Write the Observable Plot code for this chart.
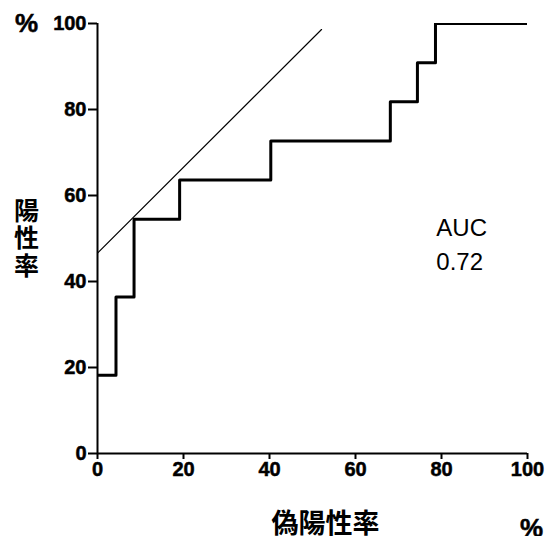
<!DOCTYPE html>
<html>
<head>
<meta charset="utf-8">
<script src="https://cdn.jsdelivr.net/npm/d3@7"></script>
<script src="https://cdn.jsdelivr.net/npm/@observablehq/plot@0.6"></script>
<style>
  body { margin: 0; background: #fff; }
  #chart svg { display: block; }
  /* heavier weight for the axis numbers and unit signs */
  #chart g[aria-label$="tick label"] text,
  #chart text.heavy { stroke: #000; stroke-width: 0.5px; }
</style>
</head>
<body>
<div id="chart"></div>
<script>
// ROC curve: false positive rate (x) vs true positive rate (y), in percent
const fpr = [0, 4.3, 8.5, 19.1, 40.3, 68.1, 74.4, 78.6, 100];
const tpr = [18.2, 36.4, 54.5, 63.6, 72.7, 81.8, 90.9, 100, 100];

// Reference line (slope 1)
const refX = [0, 52.1];
const refY = [46.6, 98.6];

const ticks = [0, 20, 40, 60, 80, 100];
const aucLabel = "AUC\n0.72";

const roc = fpr.map((x, i) => ({x, y: tpr[i]}));
const ref = refX.map((x, i) => ({x, y: refY[i]}));

const latin = "'Liberation Sans', Arial, sans-serif";
const cjk = "'Noto Sans CJK JP', sans-serif";

const chart = Plot.plot({
  width: 547,
  height: 536,
  marginLeft: 97,
  marginRight: 20,
  marginTop: 23,
  marginBottom: 83,
  style: {fontFamily: latin, background: "#fff", color: "#000"},
  x: {domain: [0, 100]},
  y: {domain: [0, 100]},
  marks: [
    Plot.axisY(ticks, {
      tickSize: 9, tickPadding: 2, strokeWidth: 2,
      fontSize: 20, fontWeight: "bold", label: null
    }),
    Plot.axisX(ticks, {
      tickSize: 6, tickPadding: 2, strokeWidth: 2,
      fontSize: 20, fontWeight: "bold", label: null
    }),
    Plot.ruleX([0], {y1: 0, y2: 100, strokeWidth: 2}),
    Plot.ruleY([0], {x1: 0, x2: 100, strokeWidth: 2}),
    Plot.line(ref, {x: "x", y: "y", strokeWidth: 1.2}),
    Plot.line(roc, {x: "x", y: "y", curve: "step-after", strokeWidth: 3, clip: true}),
    Plot.text([aucLabel], {
      x: 78.8, y: 56.3, text: d => d, textAnchor: "start", lineAnchor: "top",
      lineHeight: 1.42, fontSize: 24, fontFamily: latin
    }),
    Plot.text(["%"], {
      frameAnchor: "top-left", dx: -71, dy: 0, textAnchor: "middle", lineAnchor: "middle",
      fontSize: 26, fontWeight: "bold", className: "heavy"
    }),
    Plot.text(["%"], {
      frameAnchor: "bottom-right", dx: 4, dy: 75, textAnchor: "middle", lineAnchor: "middle",
      fontSize: 26, fontWeight: "bold", className: "heavy"
    }),
    Plot.text(["陽\n性\n率"], {
      frameAnchor: "left", dx: -71, textAnchor: "middle", lineAnchor: "middle",
      fontSize: 25, fontWeight: "bold", fontFamily: cjk, lineHeight: 1.1
    }),
    Plot.text(["偽陽性率"], {
      frameAnchor: "bottom", dx: 13, dy: 71, textAnchor: "middle", lineAnchor: "middle",
      fontSize: 27, fontWeight: "bold", fontFamily: cjk, letterSpacing: "1px"
    })
  ]
});

// tag the unit-sign texts so the stylesheet can thicken them
chart.querySelectorAll("g.heavy text").forEach(t => t.classList.add("heavy"));

document.getElementById("chart").append(chart);
</script>
</body>
</html>
